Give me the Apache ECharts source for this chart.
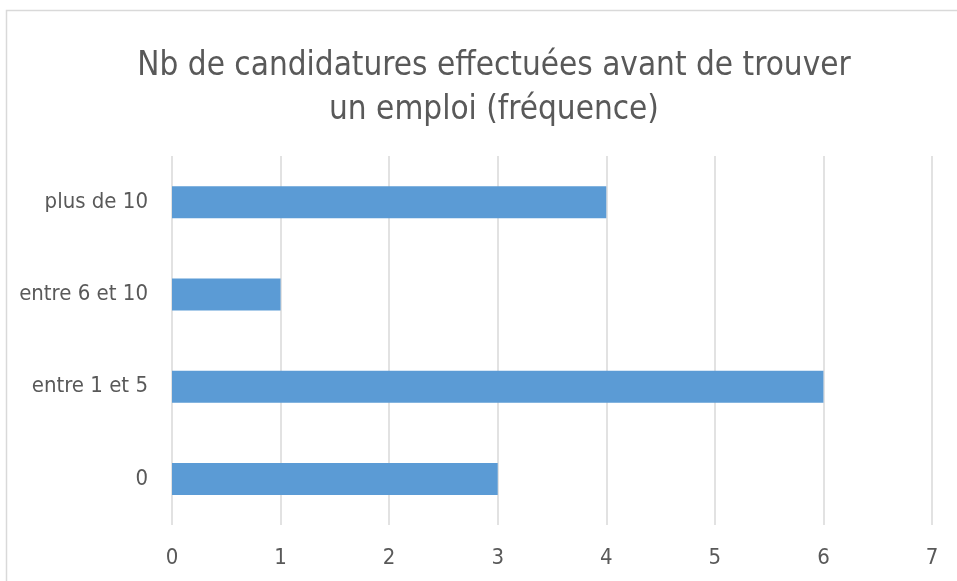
<!DOCTYPE html>
<html>
<head>
<meta charset="utf-8">
<script src="https://cdn.jsdelivr.net/npm/echarts@6/dist/echarts.min.js"></script>
<style>
  html, body { margin: 0; padding: 0; background: #fff; overflow: hidden; }
  #chart { width: 957px; height: 581px; }
</style>
</head>
<body>
<div id="chart"></div>
<script>
// données
var categories = ['0', 'entre 1 et 5', 'entre 6 et 10', 'plus de 10'];
var frequences = [3, 6, 1, 4];
var titre = 'Nb de candidatures effectuées avant de trouver\nun emploi (fréquence)';

var police = '"Liberation Sans Narrow", "DejaVu Sans Condensed", "Open Sans", sans-serif';
var gris = '#595959';

var chart = echarts.init(document.getElementById('chart'));
chart.setOption({
  animation: false,
  title: {
    text: titre,
    left: 489,
    textAlign: 'center',
    top: 39,
    textStyle: {
      fontFamily: police,
      fontSize: 33,
      fontWeight: 'normal',
      color: gris,
      lineHeight: 44
    }
  },
  graphic: [{
    type: 'rect',
    shape: { x: 6.5, y: 10.5, width: 1000, height: 1000 },
    style: { fill: 'none', stroke: '#d9d9d9', lineWidth: 1.5 },
    silent: true
  }],
  grid: {
    left: 172,
    right: 25,
    top: 156,
    bottom: 56
  },
  xAxis: {
    type: 'value',
    min: 0,
    max: 7,
    interval: 1,
    axisLine: { show: false },
    axisTick: { show: false },
    axisLabel: {
      margin: 22,
      fontFamily: police,
      fontSize: 22,
      color: gris
    },
    splitLine: { lineStyle: { color: '#d9d9d9', width: 1.5 } }
  },
  yAxis: {
    type: 'category',
    data: categories,
    axisLine: { show: false },
    axisTick: { show: false },
    splitLine: { show: false },
    axisLabel: {
      margin: 24,
      fontFamily: police,
      fontSize: 22,
      color: gris
    }
  },
  series: [{
    type: 'bar',
    data: frequences,
    barWidth: 32,
    itemStyle: { color: '#5b9bd5' }
  }]
});
</script>
</body>
</html>
